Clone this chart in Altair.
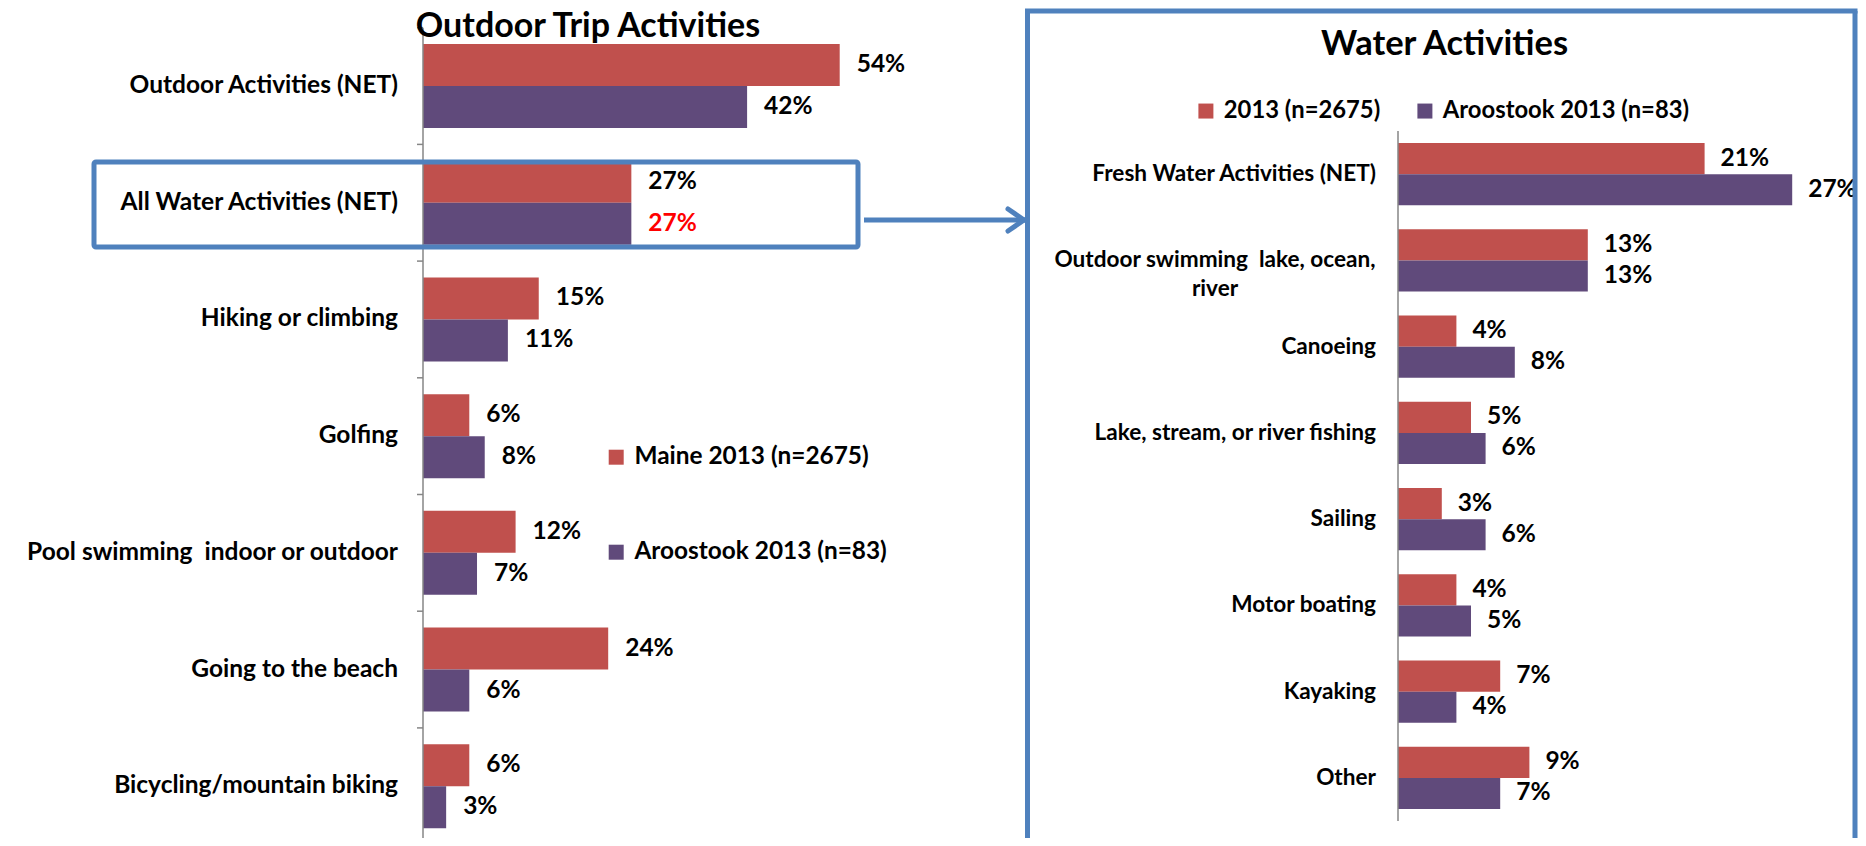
import altair as alt
import pandas as pd

# ---------------- data ----------------
left_title = "Outdoor Trip Activities"
left_categories = [
    "Outdoor Activities (NET)",
    "All Water Activities (NET)",
    "Hiking or climbing",
    "Golfing",
    "Pool swimming\u00a0 indoor or outdoor",
    "Going to the beach",
    "Bicycling/mountain biking",
]
left_series = ["Maine 2013 (n=2675)", "Aroostook 2013 (n=83)"]
left_maine = [54, 27, 15, 6, 12, 24, 6]
left_aroostook = [42, 27, 11, 8, 7, 6, 3]

right_title = "Water Activities"
right_categories = [
    "Fresh Water Activities (NET)",
    "Outdoor swimming\u00a0 lake, ocean, river",
    "Canoeing",
    "Lake, stream, or river fishing",
    "Sailing",
    "Motor boating",
    "Kayaking",
    "Other",
]
right_series = ["2013 (n=2675)", "Aroostook 2013 (n=83)"]
right_2013 = [21, 13, 4, 5, 3, 4, 7, 9]
right_aroostook = [27, 13, 8, 6, 6, 5, 4, 7]

# ---------------- style ----------------
FONT = "Lato"
RED = "#C0504D"
PURPLE = "#604A7B"
BLUE = "#4F81BD"
AXIS = "#868686"
W, H = 1850, 830
P_IN, P_OUT = 0.28, 0.14

L_YR = [19.7, 836.6]   # left category band range (px)
L_AX = 415             # left axis x (px)
L_XR = [L_AX, L_AX + 463]
R_YR = [123, 813]
R_AX = 1390
R_XR = [R_AX, R_AX + 438]


def long_table(cats, series, a, b):
    rows = []
    for c, va, vb in zip(cats, a, b):
        rows.append({"category": c, "series": series[0], "value": va})
        rows.append({"category": c, "series": series[1], "value": vb})
    return pd.DataFrame(rows)


def band_y(cats, yrange, **kw):
    return alt.Y("category:N", sort=cats, axis=None,
                 scale=alt.Scale(type="band", domain=cats, range=yrange,
                                 paddingInner=P_IN, paddingOuter=P_OUT), **kw)


def bar_layers(df, cats, series, yrange, xmax, xrange, legend, dx, size, red_test):
    yoff = alt.YOffset("series:N", sort=series,
                       scale=alt.Scale(type="band", domain=series, paddingInner=0, paddingOuter=0))
    x = alt.X("value:Q", scale=alt.Scale(domain=[0, xmax], range=xrange), axis=None)
    bars = alt.Chart(df).mark_bar().encode(
        y=band_y(cats, yrange), yOffset=yoff, x=x,
        color=alt.Color("series:N", sort=series,
                        scale=alt.Scale(domain=series, range=[RED, PURPLE]),
                        legend=legend),
    )
    text = alt.Chart(df).transform_calculate(lbl="datum.value + '%'").mark_text(
        align="left", baseline="middle", dx=dx, font=FONT, fontWeight="bold", fontSize=size
    ).encode(
        y=band_y(cats, yrange), yOffset=yoff, x=x,
        text="lbl:N",
        color=alt.condition(red_test, alt.value("#FF0000"), alt.value("#000000")),
    )
    # bars and their value labels share one set of scales
    return alt.layer(bars, text)


one = alt.Data(values=[{"k": 1}])

# ---------------- left panel ----------------
left_df = long_table(left_categories, left_series, left_maine, left_aroostook)
left_cat_df = pd.DataFrame({"category": left_categories})
left_legend = alt.Legend(
    title=None, orient="none", legendX=596, legendY=437, direction="vertical",
    symbolType="square", symbolSize=225, symbolStrokeWidth=0, padding=0,
    labelFont=FONT, labelFontSize=24.4, labelFontWeight="bold", labelColor="black",
    labelOffset=6, rowPadding=70, labelLimit=600,
)
left_bars = bar_layers(
    left_df, left_categories, left_series, L_YR, 60, L_XR, left_legend, 17, 24.5,
    "datum.category == 'All Water Activities (NET)' && datum.series == 'Aroostook 2013 (n=83)'",
)
l_cats = alt.Chart(left_cat_df).mark_text(
    align="right", baseline="middle", font=FONT, fontSize=24.5, fontWeight="bold", color="black"
).encode(y=band_y(left_categories, L_YR), x=alt.value(L_AX - 25), text="category:N")
l_ticks = alt.Chart(left_cat_df).mark_rule(stroke=AXIS, strokeWidth=1.5).encode(
    y=alt.Y("category:N", sort=left_categories, axis=None, bandPosition=0,
            scale=alt.Scale(type="band", domain=left_categories, range=L_YR,
                            paddingInner=0, paddingOuter=0)),
    x=alt.value(L_AX - 6), x2=alt.value(L_AX),
)
l_tick_end = alt.Chart(one).mark_rule(stroke=AXIS, strokeWidth=1.5).encode(
    x=alt.value(L_AX - 6), x2=alt.value(L_AX), y=alt.value(L_YR[1]))
l_domain = alt.Chart(one).mark_rule(stroke=AXIS, strokeWidth=1.5).encode(
    x=alt.value(L_AX), y=alt.value(L_YR[0]), y2=alt.value(L_YR[1]))
l_title = alt.Chart(one).mark_text(
    text=left_title, font=FONT, fontSize=34, fontWeight="bold", align="center",
    baseline="alphabetic", color="black"
).encode(x=alt.value(580), y=alt.value(29))
box = alt.Chart(one).mark_rect(
    fillOpacity=0, stroke=BLUE, strokeWidth=5, cornerRadius=2
).encode(x=alt.value(86), x2=alt.value(850), y=alt.value(154), y2=alt.value(239))
arrow = alt.Chart(one).mark_rule(stroke=BLUE, strokeWidth=5).encode(
    x=alt.value(856), x2=alt.value(1015), y=alt.value(212))
head1 = alt.Chart(one).mark_rule(stroke=BLUE, strokeWidth=5, strokeCap="round").encode(
    x=alt.value(1000), y=alt.value(201), x2=alt.value(1016), y2=alt.value(212))
head2 = alt.Chart(one).mark_rule(stroke=BLUE, strokeWidth=5, strokeCap="round").encode(
    x=alt.value(1000), y=alt.value(223), x2=alt.value(1016), y2=alt.value(212))

# ---------------- right panel ----------------
right_df = long_table(right_categories, right_series, right_2013, right_aroostook)
right_cat_df = pd.DataFrame({"category": right_categories})
right_legend = alt.Legend(
    title=None, orient="none", legendX=1186, legendY=91, direction="horizontal",
    symbolType="square", symbolSize=225, symbolStrokeWidth=0, padding=0,
    labelFont=FONT, labelFontSize=23.8, labelFontWeight="bold", labelColor="black",
    labelOffset=6, columnPadding=32, labelLimit=600,
)
right_bars = bar_layers(
    right_df, right_categories, right_series, R_YR, 30, R_XR, right_legend, 16, 24.5, "false",
)
WRAPPED = "indexof(datum.category, 'ocean, river') > 0"
r_cats = alt.Chart(right_cat_df).transform_filter("!(" + WRAPPED + ")").mark_text(
    align="right", baseline="middle", font=FONT, fontSize=22.6, fontWeight="bold", color="black"
).encode(y=band_y(right_categories, R_YR), x=alt.value(R_AX - 22), text="category:N")
r_cats_wrap = alt.Chart(right_cat_df).transform_filter(WRAPPED).transform_calculate(
    lbl="[replace(datum.category, ' river', ''), 'river']"
).mark_text(
    align="center", baseline="middle", font=FONT, fontSize=22.6, fontWeight="bold",
    color="black", lineHeight=29
).encode(y=band_y(right_categories, R_YR), x=alt.value(1207), text="lbl:N")
r_domain = alt.Chart(one).mark_rule(stroke=AXIS, strokeWidth=1.5).encode(
    x=alt.value(R_AX), y=alt.value(R_YR[0]), y2=alt.value(R_YR[1]))
r_title = alt.Chart(one).mark_text(
    text=right_title, font=FONT, fontSize=34.5, fontWeight="bold", align="center",
    baseline="alphabetic", color="black"
).encode(x=alt.value(1436.6), y=alt.value(47))
f_left = alt.Chart(one).mark_rule(stroke=BLUE, strokeWidth=5).encode(
    x=alt.value(1019.5), y=alt.value(3), y2=alt.value(840))
f_top = alt.Chart(one).mark_rule(stroke=BLUE, strokeWidth=5).encode(
    x=alt.value(1017), x2=alt.value(1849.5), y=alt.value(3))
f_right = alt.Chart(one).mark_rule(stroke=BLUE, strokeWidth=5).encode(
    x=alt.value(1847), y=alt.value(3), y2=alt.value(840))

chart = alt.layer(
    left_bars, l_cats, l_ticks, l_tick_end, l_domain, l_title, box, arrow, head1, head2,
    right_bars, r_cats, r_cats_wrap, r_domain, r_title, f_left, f_top, f_right,
).resolve_scale(
    color="independent", x="independent", y="independent", yOffset="independent"
).resolve_legend(color="independent").properties(
    width=W, height=H, padding=0, background="white",
    autosize=alt.AutoSizeParams(type="none"),
).configure_view(strokeWidth=0)

chart.save("out.html", embed_options={"renderer": "svg", "actions": False})
